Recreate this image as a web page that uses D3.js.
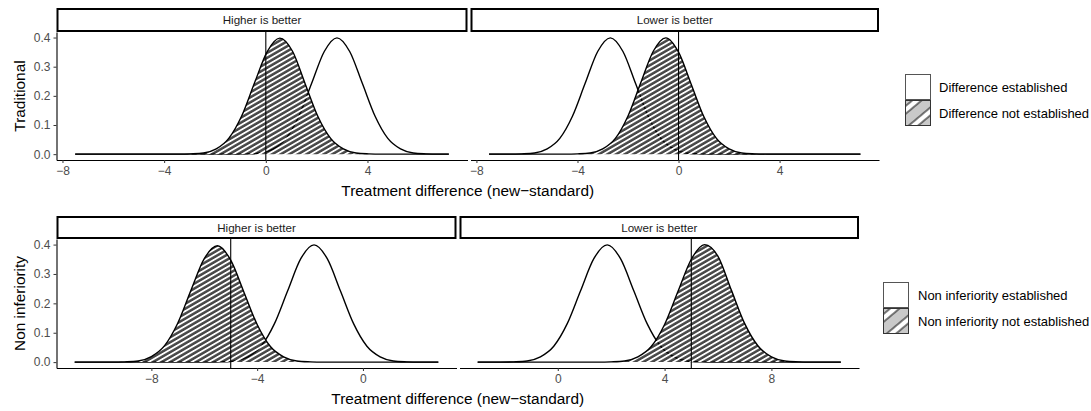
<!DOCTYPE html>
<html>
<head>
<meta charset="utf-8">
<script src="https://cdn.jsdelivr.net/npm/d3@7"></script>
<style>
  body { margin: 0; background: #fff; }
  text { font-family: "Liberation Sans", Arial, Helvetica, sans-serif; }
</style>
</head>
<body>
<div id="chart"></div>
<script>
// ---- data ----
const facets = ['Higher is better', 'Lower is better'];
const rowLabels = ['Traditional', 'Non inferiority'];
const legendLabels = [
    ['Difference established', 'Difference not established'],
    ['Non inferiority established', 'Non inferiority not established']
];
const thresholds = [[0, 0], [-5, 5]];
const yTicks = [0, 0.1, 0.2, 0.3, 0.4];
const xTicks = [[-8, -4, 0, 4], [-8, -4, 0, 4], [-8, -4, 0], [0, 4, 8]];

// Traditional / higher is better
const tradHighEstX = [-7.5, -1.2, -0.7, -0.2, 0.3, 0.8, 1.3, 1.8, 2.3, 2.8, 3.3, 3.8, 4.3, 4.8, 5.3, 5.8, 6.3, 6.8, 7.2];
const tradHighEstY = [0, 0, 0.001, 0.004, 0.018, 0.054, 0.130, 0.242, 0.352, 0.399, 0.352, 0.242, 0.130, 0.054, 0.018, 0.004, 0.001, 0, 0];
const tradHighNotX = [-7.5, -3.45, -2.95, -2.45, -1.95, -1.45, -0.95, -0.45, 0.05, 0.55, 1.05, 1.55, 2.05, 2.55, 3.05, 3.55, 4.05, 4.55, 7.2];
const tradHighNotY = [0, 0, 0.001, 0.004, 0.018, 0.055, 0.131, 0.243, 0.351, 0.398, 0.353, 0.241, 0.129, 0.054, 0.018, 0.004, 0.001, 0, 0];

// Traditional / lower is better
const tradLowEstX = [-7.5, -6.7, -6.2, -5.7, -5.2, -4.7, -4.2, -3.7, -3.2, -2.7, -2.2, -1.7, -1.2, -0.7, -0.2, 0.3, 0.8, 1.3, 7.2];
const tradLowEstY = [0, 0, 0.001, 0.004, 0.018, 0.054, 0.130, 0.242, 0.352, 0.399, 0.352, 0.242, 0.130, 0.054, 0.018, 0.004, 0.001, 0, 0];
const tradLowNotX = [-7.5, -4.5, -4.0, -3.5, -3.0, -2.5, -2.0, -1.5, -1.0, -0.5, 0.0, 0.5, 1.0, 1.5, 2.0, 2.5, 3.0, 3.5, 7.2];
const tradLowNotY = [0, 0, 0.001, 0.004, 0.018, 0.054, 0.131, 0.244, 0.353, 0.399, 0.350, 0.240, 0.129, 0.054, 0.018, 0.004, 0.001, 0, 0];

// Non inferiority / higher is better
const niHighEstX = [-10.9, -5.85, -5.35, -4.85, -4.35, -3.85, -3.35, -2.85, -2.35, -1.85, -1.35, -0.85, -0.35, 0.15, 0.65, 1.15, 1.65, 2.15, 2.85];
const niHighEstY = [0, 0, 0.001, 0.004, 0.018, 0.054, 0.130, 0.242, 0.352, 0.399, 0.352, 0.242, 0.130, 0.054, 0.018, 0.004, 0.001, 0, 0];
const niHighNotX = [-10.9, -9.5, -9.0, -8.5, -8.0, -7.5, -7.0, -6.5, -6.0, -5.5, -5.0, -4.5, -4.0, -3.5, -3.0, -2.5, -2.0, -1.5, 2.85];
const niHighNotY = [0, 0, 0.001, 0.004, 0.019, 0.056, 0.133, 0.245, 0.352, 0.396, 0.347, 0.238, 0.128, 0.053, 0.018, 0.004, 0.001, 0, 0];

// Non inferiority / lower is better
const niLowEstX = [-3.0, -2.15, -1.65, -1.15, -0.65, -0.15, 0.35, 0.85, 1.35, 1.85, 2.35, 2.85, 3.35, 3.85, 4.35, 4.85, 5.35, 5.85, 10.6];
const niLowEstY = [0, 0, 0.001, 0.004, 0.018, 0.054, 0.130, 0.242, 0.352, 0.399, 0.352, 0.242, 0.130, 0.054, 0.018, 0.004, 0.001, 0, 0];
const niLowNotX = [-3.0, 1.5, 2.0, 2.5, 3.0, 3.5, 4.0, 4.5, 5.0, 5.5, 6.0, 6.5, 7.0, 7.5, 8.0, 8.5, 9.0, 9.5, 10.6];
const niLowNotY = [0, 0, 0.001, 0.004, 0.018, 0.053, 0.128, 0.240, 0.350, 0.400, 0.360, 0.245, 0.131, 0.055, 0.018, 0.004, 0.001, 0, 0];

const panelData = [
    [[tradHighEstX, tradHighEstY, tradHighNotX, tradHighNotY], [tradLowEstX, tradLowEstY, tradLowNotX, tradLowNotY]],
    [[niHighEstX, niHighEstY, niHighNotX, niHighNotY], [niLowEstX, niLowEstY, niLowNotX, niLowNotY]]
];

// ---- layout ----
const rowsLayout = [
    { stripTop: 8, panelTop: 32, panelBottom: 160, cols: [[56.5, 467.5], [470.5, 879]],
      legend: { keyX: 905, keyY: 74, textX: 939 } },
    { stripTop: 216, panelTop: 239, panelBottom: 368, cols: [[56.5, 456.5], [459.5, 859]],
      legend: { keyX: 883, keyY: 282, textX: 918 } }
];

const svg = d3.select('#chart')
    .append('svg')
    .attr('width', 1091)
    .attr('height', 411);

const defs = svg.append('defs');

const hatch = defs.append('pattern')
    .attr('id', 'hatch')
    .attr('patternUnits', 'userSpaceOnUse')
    .attr('width', 8)
    .attr('height', 4.3)
    .attr('patternTransform', 'rotate(-30)');
hatch.append('rect').attr('width', 8).attr('height', 4.3)
    .attr('fill', '#000').attr('fill-opacity', 0.72);
hatch.append('rect').attr('width', 8).attr('height', 1.8)
    .attr('fill', '#fff');

function keyPattern(id, x, y) {
    const p = defs.append('pattern')
        .attr('id', id)
        .attr('patternUnits', 'userSpaceOnUse')
        .attr('width', 40)
        .attr('height', 17)
        .attr('patternTransform', `translate(${x},${y}) rotate(-40)`);
    p.append('rect').attr('width', 40).attr('height', 17).attr('fill', '#c9c9c9');
    p.append('rect').attr('y', 5).attr('width', 40).attr('height', 6).attr('fill', '#fff');
    p.append('line').attr('x1', 0).attr('x2', 40).attr('y1', 5).attr('y2', 5).attr('stroke', '#000').attr('stroke-width', 1);
    p.append('line').attr('x1', 0).attr('x2', 40).attr('y1', 11).attr('y2', 11).attr('stroke', '#000').attr('stroke-width', 1);
}

rowsLayout.forEach((row, r) => {
    const y = d3.scaleLinear()
        .domain([-0.02, 0.419])
        .range([row.panelBottom, row.panelTop]);

    row.cols.forEach((col, c) => {
        const [estX, estY, notX, notY] = panelData[r][c];
        const ext = d3.extent(estX.concat(notX));
        const pad = (ext[1] - ext[0]) * 0.05;
        const x = d3.scaleLinear()
            .domain([ext[0] - pad, ext[1] + pad])
            .range(col);

        const g = svg.append('g');

        const line = d3.line()
            .x(d => x(d[0]))
            .y(d => y(d[1]))
            .curve(d3.curveMonotoneX);
        const area = d3.area()
            .x(d => x(d[0]))
            .y0(y(0))
            .y1(d => y(d[1]))
            .curve(d3.curveMonotoneX);

        const est = d3.zip(estX, estY);
        const not = d3.zip(notX, notY);

        g.append('path').attr('d', line(est))
            .attr('fill', 'none').attr('stroke', '#000').attr('stroke-width', 1.4);
        g.append('path').attr('d', area(not))
            .attr('fill', 'url(#hatch)');
        g.append('path').attr('d', line(not))
            .attr('fill', 'none').attr('stroke', '#000').attr('stroke-width', 1.4);

        g.append('line')
            .attr('x1', x(thresholds[r][c])).attr('x2', x(thresholds[r][c]))
            .attr('y1', row.panelTop).attr('y2', row.panelBottom)
            .attr('stroke', '#000').attr('stroke-width', 1.1);

        // x axis
        const xAxis = g.append('g')
            .attr('transform', `translate(0,${row.panelBottom})`)
            .call(d3.axisBottom(x).tickValues(xTicks[r * 2 + c])
                .tickFormat(d => d < 0 ? '\u2212' + Math.abs(d) : d)
                .tickSize(3).tickSizeOuter(0).tickPadding(3));
        xAxis.select('.domain').attr('stroke', '#000').attr('stroke-width', 1.1);
        xAxis.selectAll('.tick line').attr('stroke', '#333');
        xAxis.selectAll('text').attr('fill', '#4d4d4d').style('font-size', '12px');

        if (c === 0) {
            const yAxis = g.append('g')
                .attr('transform', `translate(${col[0]},0)`)
                .call(d3.axisLeft(y).tickValues(yTicks).tickFormat(d3.format('.1f'))
                    .tickSize(3).tickSizeOuter(0).tickPadding(3));
            yAxis.select('.domain').attr('stroke', '#000').attr('stroke-width', 1.1);
            yAxis.selectAll('.tick line').attr('stroke', '#333');
            yAxis.selectAll('text').attr('fill', '#4d4d4d').style('font-size', '12px');
        }

        // strip
        g.append('rect')
            .attr('x', col[0] + 1).attr('y', row.stripTop + 1)
            .attr('width', col[1] - col[0] - 2).attr('height', row.panelTop - row.stripTop - 2)
            .attr('fill', '#fff').attr('stroke', '#000').attr('stroke-width', 2);
        g.append('text')
            .attr('x', (col[0] + col[1]) / 2)
            .attr('y', (row.stripTop + row.panelTop) / 2 + 4)
            .attr('text-anchor', 'middle')
            .attr('fill', '#1a1a1a')
            .style('font-size', '11.6px')
            .text(facets[c]);
    });

    // axis titles
    svg.append('text')
        .attr('x', (row.cols[0][0] + row.cols[1][1]) / 2)
        .attr('y', row.panelBottom + 35.5)
        .attr('text-anchor', 'middle')
        .style('font-size', '15.4px')
        .text('Treatment difference (new\u2212standard)');

    const cy = (row.panelTop + row.panelBottom) / 2;
    svg.append('text')
        .attr('transform', `translate(24.5,${cy}) rotate(-90)`)
        .attr('text-anchor', 'middle')
        .style('font-size', '15.4px')
        .text(rowLabels[r]);

    // legend
    const L = row.legend;
    const kw = 26, kh = 26;
    svg.append('rect')
        .attr('x', L.keyX + 0.5).attr('y', L.keyY + 0.5)
        .attr('width', kw - 1).attr('height', kh - 1)
        .attr('fill', '#fff').attr('stroke', '#555').attr('stroke-width', 1);
    keyPattern('key' + r, L.keyX, L.keyY + kh);
    svg.append('rect')
        .attr('x', L.keyX + 0.5).attr('y', L.keyY + kh + 0.5)
        .attr('width', kw - 1).attr('height', kh - 1)
        .attr('fill', `url(#key${r})`).attr('stroke', '#333').attr('stroke-width', 1);
    legendLabels[r].forEach((lab, i) => {
        svg.append('text')
            .attr('x', L.textX)
            .attr('y', L.keyY + kh * i + kh / 2 + 4.5)
            .style('font-size', '13px')
            .text(lab);
    });
});
</script>
</body>
</html>
